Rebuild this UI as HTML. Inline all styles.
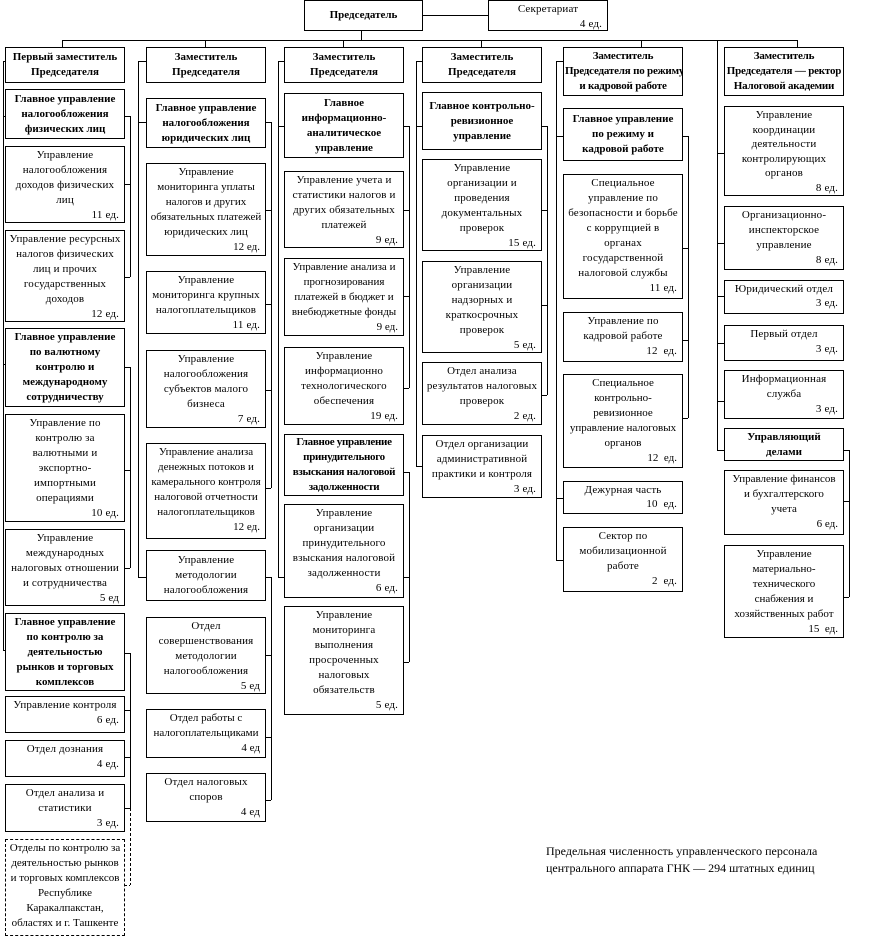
<!DOCTYPE html>
<html><head><meta charset="utf-8"><style>
body{margin:0;width:871px;height:939px;background:#fff;position:relative;overflow:hidden;font-family:"Liberation Serif","DejaVu Serif",serif;font-size:11px;color:#000}
.b{position:absolute;box-sizing:border-box;border:1px solid #000;background:#fff;text-align:center;line-height:15px;padding:1px 1px 0 1px;width:120px;letter-spacing:0.15px;white-space:nowrap;overflow:hidden}
.h{font-weight:bold;display:flex;flex-direction:column;justify-content:center;padding-top:0;letter-spacing:0}
.d{border-style:dashed}
.r{text-align:right;padding-right:4px}
svg{position:absolute;left:0;top:0}
.note{position:absolute;left:546px;top:843px;font-size:12px;line-height:17px}
</style></head><body>
<svg width="871" height="939" fill="none" stroke="#000" stroke-width="1">
<path d="M422 15.5H488M361.5 30V40M62 40.5H798M62.5 40V47M205.5 40V47M343.5 40V47M481.5 40V47M641.5 40V47M797.5 40V47M717.5 40V450"/>
<path d="M3.5 61V650M3 61.5H5M3 116.5H5M3 364.5H5M3 650.5H5"/>
<path d="M130.5 116V277M124 116.5H130M124 184.5H130M124 277.5H130"/>
<path d="M130.5 367V568M124 367.5H130M124 470.5H130M124 568.5H130"/>
<path d="M130.5 653V808M124 653.5H130M124 710.5H130M124 757.5H130M124 808.5H130"/>
<path d="M130.5 808V885M124 885.5H130" stroke-dasharray="3,2"/>
<path d="M138.5 61V577M138 61.5H146M138 122.5H146M138 577.5H146"/>
<path d="M271.5 122V488M265 122.5H271M265 210.5H271M265 304.5H271M265 390.5H271M265 488.5H271"/>
<path d="M271.5 577V800M265 577.5H271M265 655.5H271M265 737.5H271M265 800.5H271"/>
<path d="M278.5 61V577M278 61.5H284M278 126.5H284M278 577.5H284"/>
<path d="M409.5 126V388M403 126.5H409M403 210.5H409M403 296.5H409M403 388.5H409"/>
<path d="M409.5 472V662M403 472.5H409M403 577.5H409M403 662.5H409"/>
<path d="M416.5 61V466M416 61.5H422M416 126.5H422M416 466.5H422"/>
<path d="M547.5 126V395M541 126.5H547M541 210.5H547M541 305.5H547M541 395.5H547"/>
<path d="M556.5 61V560M556 61.5H563M556 136.5H563M556 498.5H563M556 560.5H563"/>
<path d="M688.5 136V418M682 136.5H688M682 248.5H688M682 340.5H688M682 418.5H688"/>
<path d="M717 153.5H724M717 243.5H724M717 296.5H724M717 343.5H724M717 401.5H724M717 450.5H724"/>
<path d="M849.5 450V597M843 450.5H849M843 501.5H849M843 597.5H849"/>
</svg>

<div class="b h" style="left:304px;top:0;width:119px;height:31px">Председатель</div>
<div class="b" style="left:488px;top:0;width:120px;height:31px">Секретариат<div class="r">4 ед.</div></div>

<!-- col1 -->
<div class="b h" style="left:5px;top:47px;height:36px">Первый заместитель<br>Председателя</div>
<div class="b h" style="left:5px;top:89px;height:50px">Главное управление<br>налогообложения<br>физических лиц</div>
<div class="b" style="left:5px;top:146px;height:77px">Управление<br>налогообложения<br>доходов физических<br>лиц<div class="r">11 ед.</div></div>
<div class="b" style="left:5px;top:230px;height:92px">Управление ресурсных<br>налогов физических<br>лиц и прочих<br>государственных<br>доходов<div class="r">12 ед.</div></div>
<div class="b h" style="left:5px;top:328px;height:79px">Главное управление<br>по валютному<br>контролю и<br>международному<br>сотрудничеству</div>
<div class="b" style="left:5px;top:414px;height:108px">Управление по<br>контролю за<br>валютными и<br>экспортно-<br>импортными<br>операциями<div class="r">10 ед.</div></div>
<div class="b" style="left:5px;top:529px;height:77px">Управление<br>международных<br>налоговых отношении<br>и сотрудничества<div class="r">5 ед</div></div>
<div class="b h" style="left:5px;top:613px;height:78px">Главное управление<br>по контролю за<br>деятельностью<br>рынков и торговых<br>комплексов</div>
<div class="b" style="left:5px;top:696px;height:37px">Управление контроля<div class="r">6 ед.</div></div>
<div class="b" style="left:5px;top:740px;height:37px">Отдел дознания<div class="r">4 ед.</div></div>
<div class="b" style="left:5px;top:784px;height:48px">Отдел анализа и<br>статистики<div class="r">3 ед.</div></div>
<div class="b d" style="left:5px;top:839px;height:97px;letter-spacing:0">Отделы по контролю за<br>деятельностью рынков<br>и торговых комплексов<br>Республике<br>Каракалпакстан,<br>областях и г. Ташкенте</div>

<!-- col2 -->
<div class="b h" style="left:146px;top:47px;height:36px">Заместитель<br>Председателя</div>
<div class="b h" style="left:146px;top:98px;height:50px">Главное управление<br>налогообложения<br>юридических лиц</div>
<div class="b" style="left:146px;top:163px;height:93px;letter-spacing:0">Управление<br>мониторинга уплаты<br>налогов и других<br>обязательных платежей<br>юридических лиц<div class="r">12 ед.</div></div>
<div class="b" style="left:146px;top:271px;height:63px">Управление<br>мониторинга крупных<br>налогоплательщиков<div class="r">11 ед.</div></div>
<div class="b" style="left:146px;top:350px;height:78px">Управление<br>налогообложения<br>субъектов малого<br>бизнеса<div class="r">7 ед.</div></div>
<div class="b" style="left:146px;top:443px;height:96px;letter-spacing:0">Управление анализа<br>денежных потоков и<br>камерального контроля<br>налоговой отчетности<br>налогоплательщиков<div class="r">12 ед.</div></div>
<div class="b" style="left:146px;top:550px;height:51px;padding-top:2px">Управление<br>методологии<br>налогообложения</div>
<div class="b" style="left:146px;top:617px;height:77px">Отдел<br>совершенствования<br>методологии<br>налогообложения<div class="r">5 ед</div></div>
<div class="b" style="left:146px;top:709px;height:49px;letter-spacing:0">Отдел работы с<br>налогоплательщиками<div class="r">4 ед</div></div>
<div class="b" style="left:146px;top:773px;height:49px">Отдел налоговых<br>споров<div class="r">4 ед</div></div>

<!-- col3 -->
<div class="b h" style="left:284px;top:47px;height:36px">Заместитель<br>Председателя</div>
<div class="b h" style="left:284px;top:93px;height:65px">Главное<br>информационно-<br>аналитическое<br>управление</div>
<div class="b" style="left:284px;top:171px;height:77px">Управление учета и<br>статистики налогов и<br>других обязательных<br>платежей<div class="r">9 ед.</div></div>
<div class="b" style="left:284px;top:258px;height:78px;letter-spacing:0">Управление анализа и<br>прогнозирования<br>платежей в бюджет и<br>внебюджетные фонды<div class="r">9 ед.</div></div>
<div class="b" style="left:284px;top:347px;height:78px">Управление<br>информационно<br>технологического<br>обеспечения<div class="r">19 ед.</div></div>
<div class="b h" style="left:284px;top:434px;height:62px;letter-spacing:-0.3px">Главное управление<br>принудительного<br>взыскания налоговой<br>задолженности</div>
<div class="b" style="left:284px;top:504px;height:94px">Управление<br>организации<br>принудительного<br>взыскания налоговой<br>задолженности<div class="r">6 ед.</div></div>
<div class="b" style="left:284px;top:606px;height:109px">Управление<br>мониторинга<br>выполнения<br>просроченных<br>налоговых<br>обязательств<div class="r">5 ед.</div></div>

<!-- col4 -->
<div class="b h" style="left:422px;top:47px;height:36px">Заместитель<br>Председателя</div>
<div class="b h" style="left:422px;top:92px;height:58px">Главное контрольно-<br>ревизионное<br>управление</div>
<div class="b" style="left:422px;top:159px;height:92px">Управление<br>организации и<br>проведения<br>документальных<br>проверок<div class="r">15 ед.</div></div>
<div class="b" style="left:422px;top:261px;height:92px">Управление<br>организации<br>надзорных и<br>краткосрочных<br>проверок<div class="r">5 ед.</div></div>
<div class="b" style="left:422px;top:362px;height:63px">Отдел анализа<br>результатов налоговых<br>проверок<div class="r">2 ед.</div></div>
<div class="b" style="left:422px;top:435px;height:63px">Отдел организации<br>административной<br>практики и контроля<div class="r">3 ед.</div></div>

<!-- col5 -->
<div class="b h" style="left:563px;top:47px;height:49px;letter-spacing:-0.2px">Заместитель<br>Председателя по режиму<br>и кадровой работе</div>
<div class="b h" style="left:563px;top:108px;height:53px">Главное управление<br>по режиму и<br>кадровой работе</div>
<div class="b" style="left:563px;top:174px;height:125px">Специальное<br>управление по<br>безопасности и борьбе<br>с коррупцией в<br>органах<br>государственной<br>налоговой службы<div class="r">11 ед.</div></div>
<div class="b" style="left:563px;top:312px;height:50px">Управление по<br>кадровой работе<div class="r">12&nbsp; ед.</div></div>
<div class="b" style="left:563px;top:374px;height:94px;letter-spacing:0">Специальное<br>контрольно-<br>ревизионное<br>управление налоговых<br>органов<div class="r">12&nbsp; ед.</div></div>
<div class="b" style="left:563px;top:481px;height:33px;line-height:14px">Дежурная часть<div class="r">10&nbsp; ед.</div></div>
<div class="b" style="left:563px;top:527px;height:65px">Сектор по<br>мобилизационной<br>работе<div class="r">2&nbsp; ед.</div></div>

<!-- col6 -->
<div class="b h" style="left:724px;top:47px;height:49px;letter-spacing:-0.2px">Заместитель<br>Председателя — ректор<br>Налоговой академии</div>
<div class="b" style="left:724px;top:106px;height:90px;line-height:14.5px">Управление<br>координации<br>деятельности<br>контролирующих<br>органов<div class="r">8 ед.</div></div>
<div class="b" style="left:724px;top:206px;height:64px">Организационно-<br>инспекторское<br>управление<div class="r">8 ед.</div></div>
<div class="b" style="left:724px;top:280px;height:34px;line-height:14px">Юридический отдел<div class="r">3 ед.</div></div>
<div class="b" style="left:724px;top:325px;height:36px">Первый отдел<div class="r">3 ед.</div></div>
<div class="b" style="left:724px;top:370px;height:49px">Информационная<br>служба<div class="r">3 ед.</div></div>
<div class="b h" style="left:724px;top:428px;height:33px">Управляющий<br>делами</div>
<div class="b" style="left:724px;top:470px;height:65px;letter-spacing:0">Управление финансов<br>и бухгалтерского<br>учета<div class="r">6 ед.</div></div>
<div class="b" style="left:724px;top:545px;height:93px;letter-spacing:0">Управление<br>материально-<br>технического<br>снабжения и<br>хозяйственных работ<div class="r">15&nbsp; ед.</div></div>

<div class="note">Предельная численность управленческого персонала<br>центрального аппарата ГНК — 294 штатных единиц</div>
</body></html>
